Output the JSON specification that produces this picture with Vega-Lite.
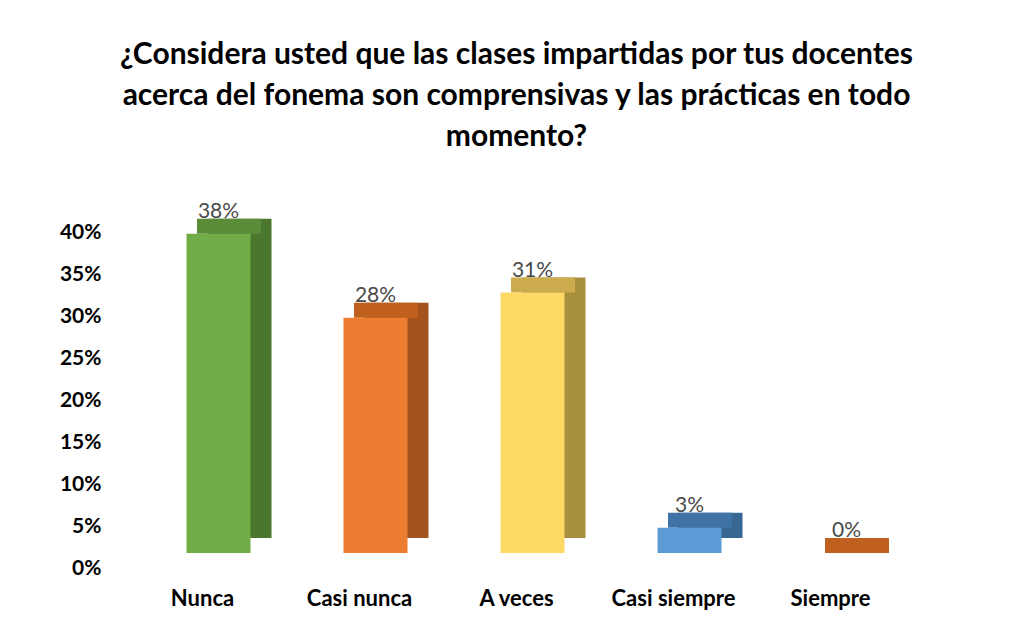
{
  "$schema": "https://vega.github.io/schema/vega-lite/v6.json",
  "autosize": "none",
  "width": 785,
  "height": 336,
  "padding": {"left": 124, "top": 232, "right": 110, "bottom": 58},
  "background": "white",
  "title": {
    "text": ["¿Considera usted que las clases impartidas por tus docentes", "acerca del fonema son comprensivas y las prácticas en todo", "momento?"],
    "font": "Lato",
    "fontSize": 30,
    "fontWeight": "bold",
    "color": "#000000",
    "anchor": "middle",
    "lineHeight": 41,
    "offset": 49
  },
  "data": {
    "values": [
      {"Respuesta": "Nunca", "Porcentaje": 0.38},
      {"Respuesta": "Casi nunca", "Porcentaje": 0.28},
      {"Respuesta": "A veces", "Porcentaje": 0.31},
      {"Respuesta": "Casi siempre", "Porcentaje": 0.03},
      {"Respuesta": "Siempre", "Porcentaje": 0.0}
    ]
  },
  "encoding": {
    "x": {
      "field": "Respuesta",
      "type": "nominal",
      "sort": null,
      "scale": {"paddingInner": 0, "paddingOuter": 0},
      "axis": {
        "title": null,
        "labelAngle": 0,
        "labelFont": "Lato",
        "labelFontSize": 22,
        "labelFontWeight": "bold",
        "labelColor": "#000000",
        "labelPadding": 20,
        "domain": false,
        "ticks": false
      }
    },
    "y": {
      "field": "Porcentaje",
      "type": "quantitative",
      "scale": {"domain": [0, 0.4], "nice": false},
      "axis": {
        "title": null,
        "values": [0, 0.05, 0.1, 0.15, 0.2, 0.25, 0.3, 0.35, 0.4],
        "format": ".0%",
        "labelFont": "Lato",
        "labelFontSize": 21,
        "labelFontWeight": "bold",
        "labelColor": "#000000",
        "labelPadding": 23,
        "domain": false,
        "ticks": false,
        "grid": false
      }
    }
  },
  "layer": [
    {
      "mark": {"type": "bar", "width": 64, "xOffset": 37, "yOffset": -30, "stroke": null},
      "encoding": {
        "color": {
          "field": "Respuesta",
          "type": "nominal",
          "legend": null,
          "scale": {"domain": ["Nunca", "Casi nunca", "A veces", "Casi siempre", "Siempre"], "range": ["#4B762E", "#A4521E", "#A88F3E", "#386791", "#A4521E"]}
        }
      }
    },
    {
      "mark": {"type": "tick", "orient": "horizontal", "size": 64, "thickness": 15, "xOffset": 26.5, "yOffset": -22.5, "opacity": 1},
      "encoding": {
        "color": {
          "field": "Respuesta",
          "type": "nominal",
          "legend": null,
          "scale": {"domain": ["Nunca", "Casi nunca", "A veces", "Casi siempre", "Siempre"], "range": ["#5A8C3A", "#C0601E", "#CCAA4E", "#3F73A6", "#C0601E"]}
        }
      }
    },
    {
      "mark": {"type": "bar", "width": 64, "xOffset": 16, "yOffset": -15},
      "encoding": {
        "color": {
          "field": "Respuesta",
          "type": "nominal",
          "legend": null,
          "scale": {"domain": ["Nunca", "Casi nunca", "A veces", "Casi siempre", "Siempre"], "range": ["#70AD47", "#ED7D31", "#FFD966", "#5B9BD5", "#ED7D31"]}
        }
      }
    },
    {
      "mark": {"type": "text", "font": "Lato", "fontSize": 21, "color": "#4A4A4A", "baseline": "alphabetic", "xOffset": 16, "dy": -31},
      "encoding": {
        "text": {"field": "Porcentaje", "type": "quantitative", "format": ".0%"}
      }
    }
  ],
  "resolve": {"scale": {"color": "independent"}},
  "config": {"view": {"stroke": null}}
}
